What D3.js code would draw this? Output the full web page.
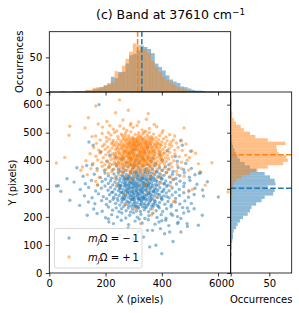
<!DOCTYPE html>
<html>
<head>
<meta charset="utf-8">
<script src="https://cdn.jsdelivr.net/npm/d3@7/dist/d3.min.js"></script>
<style>
body { margin: 0; background: #fff; }
text { font-family: "DejaVu Sans", sans-serif; fill: #000; }
</style>
</head>
<body>
<div id="target"></div>
<script>
var width = 299, height = 313;
var blueColor = '#1f77b4', orangeColor = '#ff7f0e';

// scatter points [X, Y] in pixels, m_J Omega = -1
var bluePoints = [
[177,600],[141,467],[468,473],[156,455],[183,431],[473,455],[503,434],[300,440],[350,448],[420,436],
[238,412],[285,425],[312,418],[340,428],[368,410],[395,421],[262,409],[330,411],[448,415],[215,420],
[153,386],[133,383],[485,390],[205,398],[236,389],[258,404],[275,393],[292,386],[306,400],[320,391],[335,405],[348,387],[362,397],[378,390],[402,402],[425,386],[455,398],[290,407],
[170,372],[196,365],[212,378],[226,368],[240,381],[252,363],[262,374],[271,366],[280,379],[288,362],[296,371],[303,383],[310,364],[317,375],[324,367],[331,380],[338,361],[345,372],[352,365],[359,378],[367,369],[375,382],[383,363],[392,374],[402,366],[413,379],[426,370],[440,362],[458,376],[478,368],[505,373],[246,370],[300,377],[340,368],[98,375],
[534,355],[538,358],[63,336],[120,345],[160,352],[182,340],[198,356],[210,346],[221,338],[230,353],[238,343],[245,357],[252,337],[258,348],[264,358],[269,341],[274,351],[279,336],[284,346],[289,356],[293,340],[298,350],[302,359],[306,344],[310,354],[314,338],[318,348],[322,358],[326,342],[330,352],[334,337],[338,347],[342,357],[346,341],[350,351],[355,336],[360,346],[365,356],[370,340],[375,350],[381,359],[387,344],[393,354],[400,338],[408,348],[417,358],[427,342],[438,352],[450,337],[464,347],[480,357],[498,341],[518,350],[276,339],[308,357],[332,340],[356,358],[262,345],
[88,324],[128,318],[150,330],[172,314],[188,326],[200,334],[210,319],[218,329],[226,314],[233,324],[239,334],[245,318],[250,328],[255,313],[260,323],[264,333],[268,317],[272,327],[276,335],[280,316],[284,326],[288,314],[292,324],[295,334],[299,318],[302,328],[306,313],[309,323],[313,333],[316,317],[320,327],[323,335],[327,316],[330,326],[334,314],[337,324],[341,334],[344,318],[348,328],[352,313],[356,323],[360,333],[364,317],[368,327],[373,335],[378,316],[383,326],[388,314],[394,324],[400,334],[407,318],[414,328],[422,313],[431,323],[441,333],[452,317],[465,327],[480,320],[500,330],[525,316],[562,325],[248,312],[286,335],[318,312],[340,313],[362,335],[296,320],[326,331],[354,320],[270,321],
[25,310],[41,291],[32,311],[110,298],[140,305],[165,292],[185,302],[198,310],[209,295],[218,305],[226,289],[233,299],[240,309],[246,293],[252,303],[257,288],[262,298],[267,308],[271,292],[276,302],[280,311],[284,296],[288,306],[292,290],[296,300],[300,310],[304,294],[308,304],[312,289],[316,299],[320,309],[324,293],[328,303],[332,288],[336,298],[340,308],[344,292],[348,302],[353,311],[358,296],[363,306],[368,290],[374,300],[380,310],[386,294],[393,304],[400,289],[408,299],[417,309],[426,293],[437,303],[449,288],[462,298],[478,308],[496,292],[518,302],[545,296],[278,289],[310,296],[346,310],[372,289],[298,305],[330,292],[254,310],
[601,271],[125,275],[152,268],[175,282],[192,272],[204,265],[214,279],[222,287],[229,270],[236,280],[242,266],[248,276],[254,286],[259,269],[264,279],[269,265],[273,275],[278,285],[282,268],[286,278],[290,264],[294,274],[298,284],[302,267],[306,277],[310,287],[314,271],[318,281],[322,265],[326,275],[330,285],[334,269],[338,279],[342,266],[347,276],[352,286],[357,270],[362,280],[367,266],[373,276],[379,286],[385,269],[392,279],[399,265],[407,275],[416,285],[426,268],[437,278],[449,266],[463,276],[478,286],[495,270],[515,280],[548,274],[285,286],[320,266],[355,283],[300,270],[336,264],[266,270],
[73,259],[139,253],[108,241],[162,247],[186,258],[203,244],[216,255],[227,263],[236,248],[244,258],[251,242],[258,252],[264,262],[270,246],[276,256],[282,241],[287,251],[292,261],[298,245],[303,255],[308,240],[313,250],[318,260],[323,244],[328,254],[333,263],[338,248],[344,258],[350,242],[356,252],[362,262],[369,246],[376,256],[384,241],[392,251],[401,261],[411,245],[422,255],[434,243],[448,253],[464,246],[482,257],[505,248],[296,262],[340,242],
[515,229],[158,228],[188,220],[210,235],[225,224],[238,232],[248,218],[257,229],[265,238],[273,222],[281,232],[289,217],[296,227],[303,237],[310,221],[317,231],[324,219],[331,236],[338,225],[345,234],[353,218],[361,228],[370,238],[380,222],[391,232],[403,219],[417,229],[433,236],[452,223],[474,233],[495,220],[310,235],[491,232],
[242,200],[544,206],[135,206],[170,212],[200,197],[222,208],[258,214],[272,196],[286,206],[300,215],[313,199],[326,209],[340,194],[354,204],[368,213],[383,198],[398,208],[415,195],[433,211],[456,201],[478,214],[210,193],[320,192],[468,194],[438,206],
[212,182],[530,170],[228,176],[256,188],[282,172],[305,185],[330,178],[352,190],[376,174],[400,186],[425,169],[458,181],[490,176],[456,176],[414,188],[390,182],
[428,146],[468,146],[491,166],[367,152],[349,152],[280,160],[318,148],[395,158],
[250,135],[335,128],[410,140],[300,122],[379,99],[440,112],[357,93],[400,69],
[272,312],[284,302],[296,291],[308,318],[320,284],[332,305],[344,296],[356,287],[368,311],[380,299],[263,287],[275,296],[287,322],[299,283],[311,308],[323,297],[335,321],[347,281],[359,303],[371,293],
[290,275],[302,262],[314,277],[326,258],[338,272],[350,263],[362,274],[374,258],[386,281],[398,270],[280,252],[292,238],[304,249],[316,236],[328,246],[340,233],[352,246],[364,239],[376,248],[388,237],
[268,335],[282,343],[298,331],[314,346],[330,338],[346,332],[362,344],[378,330],[394,341],[410,318],[258,262],[270,278],[405,292],[418,272],[250,300],[315,265],[345,315],[300,338],[330,270],[360,258]
];

// scatter points [X, Y] in pixels, m_J Omega = +1
var orangePoints = [
[250,617],[165,595],[281,580],[236,571],[352,568],[139,553],
[174,531],[373,529],[262,545],[318,538],[205,540],[345,548],[290,533],
[73,523],[127,517],[189,520],[479,517],[228,512],[251,524],[276,508],[298,519],[312,526],[330,510],[356,515],[382,521],[404,507],[240,506],[288,527],[342,505],[215,525],[265,514],
[70,491],[165,488],[152,486],[188,497],[203,483],[219,492],[232,501],[244,487],[256,495],[263,482],[271,499],[282,489],[290,503],[297,484],[305,494],[311,481],[318,500],[326,488],[333,496],[340,483],[348,492],[355,501],[362,486],[371,495],[380,482],[392,490],[401,499],[415,485],[428,493],[446,488],[260,490],[285,481],[322,484],[337,502],[366,481],[210,500],
[433,467],[168,462],[181,474],[196,458],[204,469],[213,477],[221,461],[227,472],[234,457],[239,466],[245,478],[250,460],[254,471],[259,464],[263,476],[267,457],[271,468],[275,479],[278,462],[282,473],[285,458],[289,467],[292,477],[295,461],[298,470],[301,456],[304,465],[307,475],[310,459],[313,468],[316,479],[319,463],[322,472],[325,457],[328,466],[331,477],[334,460],[337,470],[340,464],[343,475],[347,458],[350,468],[354,478],[358,461],[362,471],[366,465],[370,476],[374,459],[379,469],[384,462],[389,474],[394,457],[400,467],[406,478],[412,461],[419,471],[427,458],[441,474],[452,463],[468,470],[486,460],[226,465],[288,463],[306,471],[318,457],[332,474],[356,466],[272,474],[300,479],[344,462],
[473,437],[507,435],[158,447],[175,438],[189,452],[199,441],[208,449],[216,436],[223,445],[229,454],[236,440],[241,449],[247,434],[252,443],[256,453],[261,438],[265,447],[269,433],[273,452],[277,441],[281,450],[284,436],[288,445],[291,455],[294,439],[297,448],[300,434],[303,443],[306,452],[309,437],[312,446],[315,455],[318,440],[321,449],[324,435],[327,444],[330,453],[333,438],[336,447],[339,433],[342,451],[345,441],[349,450],[352,436],[356,445],[360,454],[364,439],[368,448],[372,434],[377,443],[382,452],[387,437],[392,446],[398,455],[404,440],[411,449],[418,435],[426,444],[435,453],[446,438],[458,447],[183,433],[246,456],[278,432],[302,455],[326,432],[350,456],[376,455],[394,433],[292,432],
[485,420],[462,414],[55,412],[145,425],[166,416],[180,428],[192,411],[201,421],[210,430],[217,414],[224,424],[230,409],[235,419],[240,429],[245,413],[249,423],[253,408],[257,418],[261,428],[264,412],[268,422],[271,431],[274,416],[278,426],[281,410],[284,420],[287,430],[290,414],[293,424],[296,409],[299,419],[302,429],[305,413],[308,423],[311,408],[314,418],[317,428],[320,412],[323,422],[326,431],[329,416],[332,426],[335,410],[338,420],[341,430],[344,414],[347,424],[350,409],[354,419],[358,429],[362,413],[366,423],[370,408],[374,418],[379,428],[384,412],[389,422],[394,431],[400,416],[406,426],[413,410],[420,420],[428,430],[437,414],[447,424],[498,411],[520,427],[232,427],[262,419],[286,411],[300,425],[318,414],[336,429],[355,411],[372,430],[392,415],[410,428],[258,410],
[578,393],[25,392],[130,400],[155,390],[172,403],[186,395],[197,386],[205,399],[213,391],[220,404],[226,387],[231,396],[236,406],[241,389],[245,399],[249,385],[253,394],[257,404],[260,388],[264,397],[267,407],[270,391],[273,400],[276,386],[279,395],[282,405],[285,389],[288,398],[291,384],[294,393],[297,403],[300,387],[303,396],[306,406],[309,390],[312,399],[315,385],[318,394],[321,404],[324,388],[327,397],[330,407],[333,391],[336,400],[339,386],[342,395],[345,405],[348,389],[351,398],[355,384],[359,393],[363,403],[367,387],[371,396],[375,406],[380,390],[385,399],[390,385],[396,394],[402,404],[409,388],[416,397],[424,407],[433,391],[443,400],[455,386],[470,395],[490,402],[530,389],[218,385],[248,407],[266,384],[292,406],[310,385],[334,384],[352,406],[378,385],[398,407],[246,392],[325,401],[360,398],[284,393],[405,396],
[112,366],[118,378],[148,372],[170,364],[188,380],[201,369],[212,376],[222,362],[230,371],[238,382],[245,366],[252,375],[258,361],[264,370],[270,380],[276,365],[281,374],[287,383],[292,368],[297,377],[302,362],[307,372],[312,381],[317,366],[322,375],[327,361],[332,370],[338,380],[343,364],[349,373],[355,383],[361,367],[368,376],[375,362],[383,371],[391,381],[400,365],[410,374],[422,368],[436,378],[452,363],[470,372],[495,366],[536,361],[260,383],[300,384],[330,383],[290,361],[350,362],
[135,350],[178,341],[210,355],[232,338],[248,349],[262,357],[273,343],[285,352],[296,337],[305,346],[316,356],[326,340],[336,350],[347,359],[358,344],[370,353],[384,339],[398,348],[415,357],[432,342],[455,351],[480,345],[292,358],
[165,326],[240,318],[288,331],[318,315],[352,328],[395,320],[440,333],[343,313],
[171,313],[509,298],[497,292],[432,310],[554,313],[636,289],[353,289],
[272,280],[380,270],[272,244],[447,256],[441,254],[367,229],[307,229],[364,207],[325,176],
[258,445],[266,431],[279,458],[287,449],[293,437],[299,463],[305,441],[311,452],[317,436],[323,461],[329,447],[335,439],[341,456],[347,444],[353,433],[359,459],[365,448],[371,437],[283,467],[297,475],
[311,466],[329,480],[345,469],[361,477],[277,415],[289,402],[301,418],[313,405],[325,419],[337,403],[349,416],[361,402],[373,421],[269,437],[281,424],[295,429],[309,443],[321,426],[339,438],[355,427],
[263,455],[275,446],[315,472],[333,418],[343,398],[303,392],[287,412],[319,398],[251,428],[383,447],[391,426],[243,443],[388,461],[270,489],[316,490],[352,485],[233,418],[396,405],[296,452],[364,433]
];

// top histogram: counts per X bin (bins of 13 px from 37)
var xBinStart = 37, xBinWidth = 13;
var xCountsBlue = [1,0,0,0,1,1,1,2,2,4,5,7,9,11,22,20,29,29,41,53,55,60,67,65,62,56,41,36,31,24,18,15,13,8,7,5,3,2,2,1,0,0];
var xCountsOrange = [0,1,0,1,1,1,1,3,3,6,7,7,10,13,14,30,27,38,48,58,70,68,65,62,56,44,36,29,22,17,14,10,7,5,3,2,1,1,0,1,0,1];

// right histogram: counts per Y bin (bins of 12 px from 48)
var yBinStart = 48, yBinWidth = 12;
var yCountsBlue = [0,1,0,1,1,2,3,3,4,7,9,12,16,22,25,27,33,40,44,55,57,48,58,57,51,44,33,25,18,12,9,7,5,3,2,1,1,0,0,0,0,0,0,0,0,0,1,0];
var yCountsOrange = [0,0,0,0,0,0,0,0,0,0,0,1,0,0,1,0,1,1,1,2,2,3,4,7,14,25,35,48,68,74,72,62,60,59,71,48,32,25,17,13,7,4,2,2,1,1,0,1];

// mean positions (blue, orange)
var meanX = [329, 314];
var meanY = [302, 421];

var xTicks = [0, 200, 400, 600];
var yTicks = [0, 100, 200, 300, 400, 500, 600];
var countTicks = [0, 50];
var legendSigns = ['\u2212\u20091', '+\u20091'];

var svg = d3.select('#target').append('svg')
    .attr('width', width)
    .attr('height', height);

var x = d3.scaleLinear().domain([0, 645]).range([49.3, 230.7]);
var y = d3.scaleLinear().domain([0, 645]).range([273, 92]);
var topY = d3.scaleLinear().domain([0, 87]).range([92, 31.7]);
var rightX = d3.scaleLinear().domain([0, 79]).range([230.7, 291.7]);

var colors = [blueColor, orangeColor];

// ---- top histogram
var topG = svg.append('g');
[xCountsBlue, xCountsOrange].forEach(function (counts, k) {
    topG.append('g').selectAll('rect')
        .data(counts)
        .enter()
        .append('rect')
        .attr('x', function (d, i) { return x(xBinStart + i * xBinWidth); })
        .attr('width', function (d, i) { return x(xBinStart + (i + 1) * xBinWidth) - x(xBinStart + i * xBinWidth); })
        .attr('y', function (d) { return topY(d); })
        .attr('height', function (d) { return topY(0) - topY(d); })
        .attr('fill', colors[k])
        .attr('fill-opacity', 0.5);
});
topG.selectAll('line.mean')
    .data(meanX)
    .enter()
    .append('line')
    .attr('x1', function (d) { return x(d); })
    .attr('x2', function (d) { return x(d); })
    .attr('y1', topY(0))
    .attr('y2', topY(87))
    .attr('stroke', function (d, i) { return colors[i]; })
    .attr('stroke-width', 1.5)
    .attr('stroke-dasharray', '5.5,2.4');

// ---- right histogram
var rightG = svg.append('g');
[yCountsBlue, yCountsOrange].forEach(function (counts, k) {
    rightG.append('g').selectAll('rect')
        .data(counts)
        .enter()
        .append('rect')
        .attr('x', rightX(0))
        .attr('width', function (d) { return rightX(d) - rightX(0); })
        .attr('y', function (d, i) { return y(yBinStart + (i + 1) * yBinWidth); })
        .attr('height', function (d, i) { return y(yBinStart + i * yBinWidth) - y(yBinStart + (i + 1) * yBinWidth); })
        .attr('fill', colors[k])
        .attr('fill-opacity', 0.5);
});
rightG.selectAll('line.mean')
    .data(meanY)
    .enter()
    .append('line')
    .attr('y1', function (d) { return y(d); })
    .attr('y2', function (d) { return y(d); })
    .attr('x1', rightX(0))
    .attr('x2', rightX(79))
    .attr('stroke', function (d, i) { return colors[i]; })
    .attr('stroke-width', 1.5)
    .attr('stroke-dasharray', '5.5,2.4');

// ---- scatter
svg.append('clipPath').attr('id', 'clipMain')
    .append('rect')
    .attr('x', x(0)).attr('y', y(645))
    .attr('width', x(645) - x(0)).attr('height', y(0) - y(645));
var scatterG = svg.append('g').attr('clip-path', 'url(#clipMain)');
[bluePoints, orangePoints].forEach(function (pts, k) {
    scatterG.append('g').selectAll('circle')
        .data(pts)
        .enter()
        .append('circle')
        .attr('cx', function (d) { return x(d[0]); })
        .attr('cy', function (d) { return y(d[1]); })
        .attr('r', 1.7)
        .attr('fill', colors[k])
        .attr('fill-opacity', 0.5);
});

// ---- axes
function styleAxis(g) {
    g.select('.domain').remove();
    g.selectAll('line').attr('stroke', '#000').attr('stroke-width', 0.8);
    g.selectAll('text').attr('font-size', '10px').attr('font-family', '"DejaVu Sans", sans-serif');
}
svg.append('g').attr('transform', 'translate(0,' + y(0) + ')')
    .call(d3.axisBottom(x).tickValues(xTicks).tickSize(3.5).tickPadding(3.5))
    .call(styleAxis);
svg.append('g').attr('transform', 'translate(' + x(0) + ',0)')
    .call(d3.axisLeft(y).tickValues(yTicks).tickSize(3.5).tickPadding(3.5))
    .call(styleAxis);
svg.append('g').attr('transform', 'translate(0,' + topY(0) + ')')
    .call(d3.axisBottom(x).tickValues(xTicks).tickSize(3.5).tickFormat(''))
    .call(styleAxis);
svg.append('g').attr('transform', 'translate(' + x(0) + ',0)')
    .call(d3.axisLeft(topY).tickValues(countTicks).tickSize(3.5).tickPadding(3.5))
    .call(styleAxis);
svg.append('g').attr('transform', 'translate(0,' + y(0) + ')')
    .call(d3.axisBottom(rightX).tickValues(countTicks).tickSize(3.5).tickPadding(3.5))
    .call(styleAxis);
svg.append('g').attr('transform', 'translate(' + rightX(0) + ',0)')
    .call(d3.axisLeft(y).tickValues(yTicks).tickSize(3.5).tickFormat(''))
    .call(styleAxis);

// ---- frames
var frames = [
    [x(0), topY(87), x(645) - x(0), topY(0) - topY(87)],
    [x(0), y(645), x(645) - x(0), y(0) - y(645)],
    [rightX(0), y(645), rightX(79) - rightX(0), y(0) - y(645)]
];
svg.selectAll('rect.frame')
    .data(frames)
    .enter()
    .append('rect')
    .attr('class', 'frame')
    .attr('x', function (d) { return d[0]; })
    .attr('y', function (d) { return d[1]; })
    .attr('width', function (d) { return d[2]; })
    .attr('height', function (d) { return d[3]; })
    .attr('fill', 'none')
    .attr('stroke', '#000')
    .attr('stroke-width', 0.8);

// ---- labels
svg.append('text')
    .attr('x', (x(0) + x(645)) / 2).attr('y', 302.5)
    .attr('text-anchor', 'middle').attr('font-size', '10px')
    .text('X (pixels)');
svg.append('text')
    .attr('x', (rightX(0) + rightX(79)) / 2).attr('y', 302.5)
    .attr('text-anchor', 'middle').attr('font-size', '10px')
    .text('Occurrences');
svg.append('text')
    .attr('transform', 'translate(15.5,' + (y(0) + y(645)) / 2 + ') rotate(-90)')
    .attr('text-anchor', 'middle').attr('font-size', '10px')
    .text('Y (pixels)');
svg.append('text')
    .attr('transform', 'translate(22.5,' + (topY(0) + topY(87)) / 2 + ') rotate(-90)')
    .attr('text-anchor', 'middle').attr('font-size', '10px')
    .text('Occurrences');

var title = svg.append('text')
    .attr('x', (x(0) + rightX(79)) / 2).attr('y', 19)
    .attr('text-anchor', 'middle').attr('font-size', '12.5px');
title.append('tspan').text('(c) Band at 37610 cm');
title.append('tspan').attr('font-size', '8.8px').attr('dy', -4.5).text('\u22121');

// ---- legend
var legend = svg.append('g');
legend.append('rect')
    .attr('x', 54.5).attr('y', 228.5)
    .attr('width', 87.5).attr('height', 39.5)
    .attr('rx', 2)
    .attr('fill', '#fff').attr('fill-opacity', 0.8)
    .attr('stroke', '#d0d0d0').attr('stroke-width', 0.8);
legendSigns.forEach(function (s, i) {
    var cy = 238 + i * 19;
    legend.append('circle')
        .attr('cx', 69).attr('cy', cy).attr('r', 1.7)
        .attr('fill', colors[i]).attr('fill-opacity', 0.5);
    var t = legend.append('text')
        .attr('x', 88).attr('y', cy + 3.6)
        .attr('font-size', '10px');
    t.append('tspan').attr('font-style', 'italic').text('m');
    t.append('tspan').attr('font-style', 'italic').attr('font-size', '7px').attr('dy', 2).text('J');
    t.append('tspan').attr('dy', -2).text('\u03A9 = ' + s);
});
</script>
</body>
</html>
